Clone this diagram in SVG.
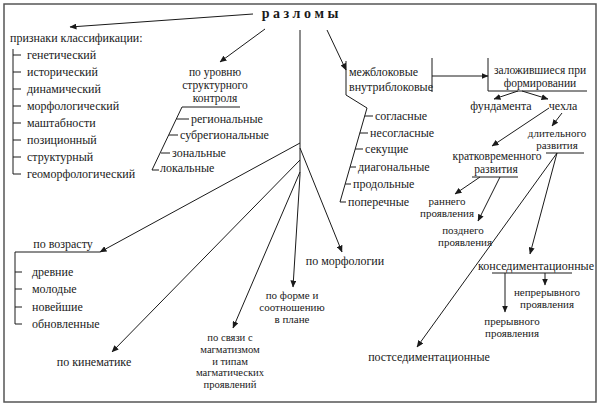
<svg xmlns="http://www.w3.org/2000/svg" width="600" height="408" viewBox="0 0 600 408" font-family="'Liberation Serif', 'Times New Roman', serif">
<defs>
<marker id="ar" markerWidth="7" markerHeight="6" refX="6.5" refY="3" orient="auto" markerUnits="userSpaceOnUse">
<path d="M0,0 L7,3 L0,6 z" fill="#1a1a1a"/>
</marker>
<style>
text{font-family:"Liberation Serif","Times New Roman",serif;font-size:12px;fill:#1a1a1a}
.c{text-anchor:middle}
.m{font-size:11.5px}
.n{font-size:11px}
.s{font-size:10.6px}
.ttl{font-size:14px;font-weight:bold}
.ln{fill:none;stroke:#1a1a1a;stroke-width:1}
.a{fill:none;stroke:#1a1a1a;stroke-width:1;marker-end:url(#ar)}
</style>
</defs>
<rect x="0" y="0" width="600" height="408" fill="#fff"/>
<rect x="4" y="4" width="592" height="398" fill="none" stroke="#555" stroke-width="1.5"/>

<g id="title"><text class="c ttl" x="300" y="18">р а з л о м ы</text></g>

<g id="priznaki">
<text x="10" y="42">признаки классификации:</text>
<path class="ln" d="M13,49 V174 H21 M13,55 H21 M13,72 H21 M13,89 H21 M13,106 H21 M13,123 H21 M13,140 H21 M13,157 H21"/>
<text x="27" y="59">генетический</text>
<text x="27" y="76">исторический</text>
<text x="27" y="93">динамический</text>
<text x="27" y="110">морфологический</text>
<text x="27" y="127">маштабности</text>
<text x="27" y="144">позиционный</text>
<text x="27" y="161">структурный</text>
<text x="27" y="178">геоморфологический</text>
</g>

<g id="uroven">
<text class="c m" x="215" y="76">по уровню<tspan x="215" dy="13">структурного</tspan><tspan x="215" dy="13">контроля</tspan></text>
<path class="ln" d="M240,107 H182 L152,170 H159 M176.5,119 H189 M169,135 H178 M161,153 H170"/>
<text x="191" y="123">региональные</text>
<text x="180" y="139">субрегиональные</text>
<text x="172" y="157">зональные</text>
<text x="160" y="172">локальные</text>
</g>

<g id="mezhblok">
<text x="349" y="76">межблоковые<tspan x="349" dy="15">внутриблоковые</tspan></text>
<path class="ln" d="M346,61 V95 L367,108 L340,202 H346 M432,58 V92"/>
<path class="ln" d="M364.7,116 H373 M359.8,133 H368 M355.2,149 H363 M350,167 H356 M345.2,184 H351"/>
<text x="375" y="120">согласные</text>
<text x="370" y="137">несогласные</text>
<text x="365" y="153">секущие</text>
<text x="358" y="171">диагональные</text>
<text x="353" y="188">продольные</text>
<text x="348" y="206">поперечные</text>
</g>

<g id="zalozh">
<path class="ln" d="M488,58 V91 H587"/>
<text class="c m" x="540" y="74">заложившиеся при<tspan x="540" dy="13">формировании</tspan></text>
</g>
<g id="fundament"><text class="c" x="501" y="110">фундамента</text></g>
<g id="chekhla"><text class="c" x="563" y="110">чехла</text></g>
<g id="dlitel">
<text class="c n" x="557" y="137">длительного<tspan x="557" dy="12.2">развития</tspan></text>
<path class="ln" d="M546,153 H584"/>
</g>
<g id="kratkovr">
<text class="c m" x="497" y="160">кратковременного<tspan x="496" dy="13">развития</tspan></text>
<path class="ln" d="M472,177 H518"/>
</g>
<g id="rannego">
<text class="c n" x="447" y="205">раннего<tspan x="447" dy="12.2">проявления</tspan></text>
</g>
<g id="pozdnego">
<text class="c n" x="463" y="234">позднего<tspan x="465" dy="12.2">проявления</tspan></text>
</g>
<g id="konsed">
<text class="c" x="536" y="270">конседиментационные</text>
<path class="ln" d="M492,273 H572"/>
</g>
<g id="nepreryv">
<text class="c n" x="547" y="296">непрерывного<tspan x="547" dy="12.2">проявления</tspan></text>
</g>
<g id="preryv">
<text class="c n" x="512" y="325">прерывного<tspan x="512" dy="12.2">проявления</tspan></text>
</g>
<g id="postsed"><text class="c" x="429" y="361">постседиментационные</text></g>

<g id="vozrast">
<text class="c" x="63" y="248">по возрасту</text>
<path class="ln" d="M100,252 H15 V324 H22 M15,272 H22 M15,289 H22 M15,307 H22"/>
<text x="32" y="276">древние</text>
<text x="32" y="293">молодые</text>
<text x="32" y="311">новейшие</text>
<text x="32" y="328">обновленные</text>
</g>
<g id="kinematika"><text class="c" x="94" y="366">по кинематике</text></g>
<g id="magmatizm">
<text class="c s" x="230" y="341">по связи с<tspan x="230" dy="11.8">магматизмом</tspan><tspan x="230" dy="11.8">и типам</tspan><tspan x="230" dy="11.8">магматических</tspan><tspan x="230" dy="11.8">проявлений</tspan></text>
</g>
<g id="forma">
<text class="c n" x="292" y="299">по форме и<tspan x="292" dy="12.2">соотношению</tspan><tspan x="292" dy="12.2">в плане</tspan></text>
</g>
<g id="morfologii"><text class="c" x="345" y="265">по морфологии</text></g>

<g id="connectors">
<path class="a" d="M253,14 L70,27"/>
<path class="a" d="M265,29 L220,62"/>
<path class="a" d="M327,30 L346,70"/>
<path class="ln" d="M300,30 V175"/>
<path class="a" d="M300,143 L100,252"/>
<path class="a" d="M300,160 L112,352"/>
<path class="a" d="M300,172 L233,328"/>
<path class="a" d="M300,175 L293,287"/>
<path class="a" d="M300,148 L342,252"/>
<path class="a" d="M432,76 L488,76"/>
<path class="a" d="M518,91 L494,99"/>
<path class="a" d="M522,91 L548,99"/>
<path class="a" d="M549,108 L492,146"/>
<path class="a" d="M562,113 L552,126"/>
<path class="a" d="M480,177 L455,194"/>
<path class="a" d="M500,177 L478,221"/>
<path class="a" d="M557,153 L417,347"/>
<path class="a" d="M557,153 L530,254"/>
<path class="a" d="M505,273 L505,312"/>
<path class="a" d="M545,273 L545,285"/>
</g>
</svg>
